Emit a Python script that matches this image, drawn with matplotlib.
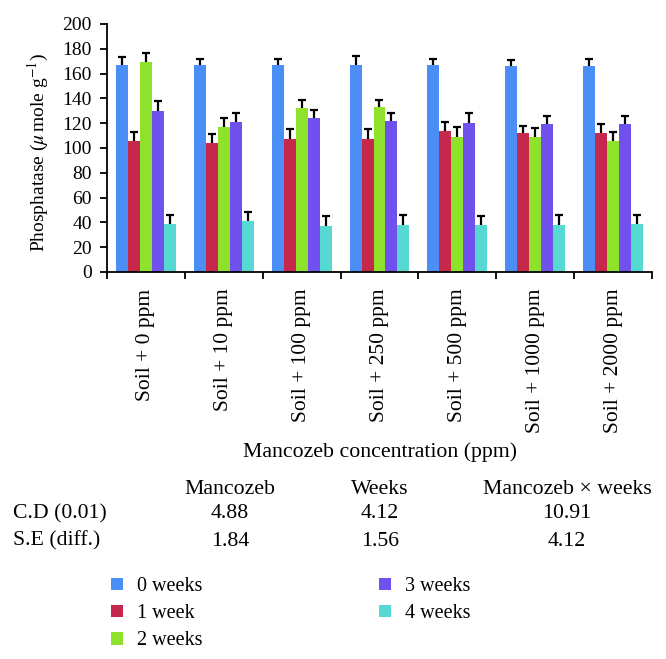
import matplotlib
matplotlib.use("Agg")
import matplotlib.pyplot as plt
import numpy as np

plt.rcParams['font.family'] = ['Liberation Serif', 'DejaVu Serif']
plt.rcParams['mathtext.fontset'] = 'stix'

# dados
groups = ['Soil + 0 ppm', 'Soil + 10 ppm', 'Soil + 100 ppm', 'Soil + 250 ppm',
          'Soil + 500 ppm', 'Soil + 1000 ppm', 'Soil + 2000 ppm']
series = ['0 weeks', '1 week', '2 weeks', '3 weeks', '4 weeks']
colors = ['#4a8ef6', '#c5284b', '#8fe22b', '#7151ee', '#57d9d3']

w0 = [167, 167, 167, 167, 167, 166, 166]
w1 = [106, 104, 107, 107, 114, 112, 112]
w2 = [169, 117, 132, 133, 109, 109, 106]
w3 = [130, 121, 124, 122, 120, 119, 119]
w4 = [39, 41, 37, 38, 38, 38, 39]

e0 = [6, 5, 5, 7, 5, 5, 6]
e1 = [7, 7, 8, 8, 7, 6, 7]
e2 = [8, 7, 7, 6, 8, 7, 7]
e3 = [8, 7, 7, 6, 8, 7, 7]
e4 = [7, 7, 8, 8, 7, 8, 7]

values = [w0, w1, w2, w3, w4]
errors = [e0, e1, e2, e3, e4]

# tabela de estatistica
tab_cols = ['Mancozeb', 'Weeks', 'Mancozeb \u00d7 weeks']
tab_rows = ['C.D (0.01)', 'S.E (diff.)']
tab_vals = [['4.88', '4.12', '10.91'],
            ['1.84', '1.56', '4.12']]

W, H = 666, 659
fig = plt.figure(figsize=(W / 100, H / 100), dpi=100)
ax = fig.add_axes([107 / W, 1 - 272 / H, (652 - 107) / W, (272 - 24) / H])

fs = 14
fs_txt = 15.7
bw = 0.154
x = np.arange(len(groups)) + 0.5
for i in range(len(series)):
    bc = ax.bar(x + (i - 2) * bw, values[i], bw, color=colors[i], label=series[i],
                yerr=[np.zeros(len(groups)), errors[i]],
                error_kw=dict(ecolor='black', elinewidth=1.6, capsize=3, capthick=1.6))
    # esconde o cap de baixo (so barra de erro para cima)
    bc.errorbar.lines[1][0].set_visible(False)

ax.set_xlim(0, len(groups))
ax.set_ylim(0, 200)
ax.set_yticks(range(0, 201, 20))
ax.set_xticks(range(len(groups) + 1))
ax.set_xticklabels([])
ax.set_xticks(x, minor=True)
ax.set_xticklabels(groups, minor=True, rotation=90, fontsize=15.5)
ax.tick_params(axis='x', which='minor', length=0, pad=12)
ax.tick_params(axis='x', which='major', length=5, width=1.3, direction='out')
ax.tick_params(axis='y', length=5, width=1.3, direction='out', pad=6, labelsize=fs)
for s in ['top', 'right']:
    ax.spines[s].set_visible(False)
for s in ['left', 'bottom']:
    ax.spines[s].set_linewidth(1.3)

fig.text(38 / W, 1 - 152 / H, r'Phosphatase ($\mu\,$mole g$^{-1}$)', rotation=90,
         ha='center', va='center', fontsize=fs)
fig.text(380 / W, 1 - 452 / H, 'Mancozeb concentration (ppm)', ha='center',
         va='center', fontsize=fs_txt)

col_x = [230, 380, 567]
for j, c in enumerate(tab_cols):
    fig.text(col_x[j] / W, 1 - 490 / H, c, ha='center', va='center', fontsize=fs_txt)
row_y = [514, 541]
for i, r in enumerate(tab_rows):
    fig.text(13 / W, 1 - row_y[i] / H, r, ha='left', va='center', fontsize=fs_txt)
    for j in range(3):
        fig.text(col_x[j] / W, 1 - row_y[i] / H, tab_vals[i][j], ha='center',
                 va='center', fontsize=fs_txt)

handles, labels = ax.get_legend_handles_labels()
fig.legend(handles, labels, loc='upper left', bbox_to_anchor=(93 / W, 1 - 559 / H),
           ncol=2, frameon=False, fontsize=14.5, handlelength=0.6, handleheight=0.6,
           handletextpad=0.7, columnspacing=8.75, labelspacing=0.4)

fig.savefig('out.png', dpi=100)
